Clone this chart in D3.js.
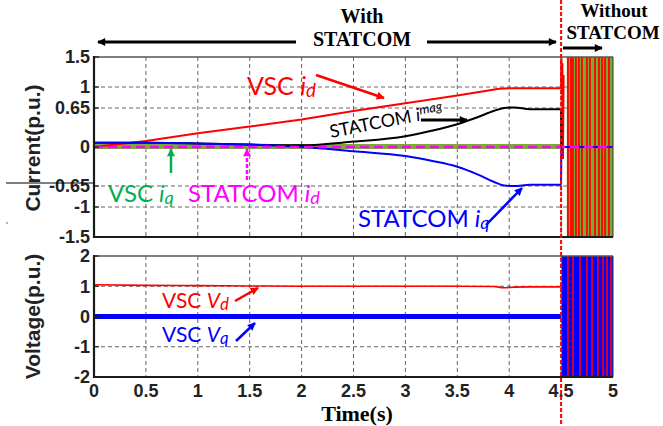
<!DOCTYPE html>
<html>
<head>
<meta charset="utf-8">
<script src="https://cdn.jsdelivr.net/npm/d3@7"></script>
<style>
  body { margin: 0; background: #fff; }
  svg { display: block; }
</style>
</head>
<body>
<svg id="chart" width="663" height="426"></svg>
<script>
// ---- axis ticks ----
const timeTicks = [0, 0.5, 1, 1.5, 2, 2.5, 3, 3.5, 4, 4.5, 5];
const timeTickLabels = ["0", "0.5", "1", "1.5", "2", "2.5", "3", "3.5", "4", "4.5", "5"];
const currentTicks = [-1.5, -1, -0.65, 0, 0.65, 1, 1.5];
const currentTickLabels = ["-1.5", "-1", "-0.65", "0", "0.65", "1", "1.5"];
const voltageTicks = [-2, -1, 0, 1, 2];
const voltageTickLabels = ["-2", "-1", "0", "1", "2"];
const switchTime = 4.5;   // STATCOM disconnected

// ---- currents (p.u.) ----
const vscIdT = [0, 0.5, 1, 1.5, 2, 2.5, 3, 3.5, 3.8, 3.9, 4.0, 4.2, 4.5, 4.503, 4.507, 4.512, 4.518, 4.524];
const vscIdV = [0, 0.1, 0.23, 0.34, 0.46, 0.6, 0.73, 0.86, 0.94, 0.97, 0.98, 0.98, 0.98, 1.48, 0.9, 1.4, -0.2, 1.2];

const vscIqT = [0, 4.5];
const vscIqV = [0.01, 0.01];

const statIdT = [0, 5];
const statIdV = [0, 0];

const statIqT = [0, 0.5, 1, 1.5, 2, 2.5, 3, 3.25, 3.5, 3.7, 3.85, 3.95, 4.05, 4.2, 4.35, 4.5, 4.502, 5];
const statIqV = [0.07, 0.07, 0.06, 0.04, 0.0, -0.07, -0.15, -0.23, -0.33, -0.46, -0.58, -0.64, -0.65, -0.63, -0.63, -0.63, 0, 0];

const statImagT = [0, 0.5, 1, 1.5, 2, 2.5, 3, 3.25, 3.5, 3.7, 3.85, 3.95, 4.05, 4.2, 4.35, 4.5, 4.502];
const statImagV = [0.07, 0.07, 0.06, 0.04, 0.03, 0.09, 0.18, 0.27, 0.38, 0.5, 0.6, 0.65, 0.66, 0.63, 0.63, 0.63, 0];

// oscillation after disconnection, drawn as dense stripes
const currentBandStart = 4.555;
const currentRedStripes = [4.566, 4.595, 4.614, 4.643, 4.672, 4.701, 4.749, 4.778, 4.827, 4.865, 4.894, 4.923, 4.961];

// ---- voltages (p.u.) ----
const vscVdT = [0, 0.5, 1, 1.5, 2, 2.5, 3, 3.5, 3.85, 3.95, 4.05, 4.2, 4.5];
const vscVdV = [1.05, 1.03, 1.02, 1.01, 1.0, 1.0, 1.0, 1.0, 0.99, 0.95, 0.97, 0.98, 0.98];

const vscVqT = [0, 4.5];
const vscVqV = [0, 0];

const voltageBandStart = 4.504;
const voltageRedStripes = [4.566, 4.615, 4.682, 4.749, 4.798, 4.855, 4.904, 4.942, 4.981];

// ---- layout ----
const svg = d3.select("#chart");
const x = d3.scaleLinear().domain([0, 5]).range([94, 613]);
const yI = d3.scaleLinear().domain([-1.5, 1.5]).range([237, 57]);
const yV = d3.scaleLinear().domain([-2, 2]).range([377, 256]);

const RED = "#ff0000", BLUE = "#0000ff", MAG = "#ff00ff", OLIVE = "#77ac30", GREEN = "#00b050";
const tickFont = "'Liberation Sans', Arial, sans-serif";
const serif = "'Liberation Serif', 'Times New Roman', serif";
const annot = "Lato, 'Open Sans', sans-serif";

// arrow markers
const defs = svg.append("defs");
[["red", RED], ["black", "#000"], ["blue", BLUE], ["green", GREEN], ["mag", MAG]].forEach(([id, c]) => {
  defs.append("marker")
    .attr("id", "ah-" + id)
    .attr("viewBox", "0 0 10 10")
    .attr("refX", 9).attr("refY", 5)
    .attr("markerWidth", 10).attr("markerHeight", 8)
    .attr("markerUnits", "userSpaceOnUse")
    .attr("orient", "auto")
    .append("path").attr("d", "M0,0 L10,5 L0,10 Z").attr("fill", c);
});

function pairs(ts, vs) { return ts.map((t, i) => [t, vs[i]]); }

function grid(yScale, hTicks) {
  const g = svg.append("g");
  g.selectAll("line.v").data(timeTicks.filter(t => t > 0 && t < 5)).join("line")
    .attr("x1", d => x(d)).attr("x2", d => x(d))
    .attr("y1", yScale.range()[1]).attr("y2", yScale.range()[0])
    .attr("stroke", "#666").attr("stroke-width", 1).attr("stroke-dasharray", "4,3");
  g.selectAll("line.h").data(hTicks).join("line")
    .attr("x1", x(0)).attr("x2", x(5))
    .attr("y1", d => yScale(d)).attr("y2", d => yScale(d))
    .attr("stroke", "#666").attr("stroke-width", 1).attr("stroke-dasharray", "4,3");
}

function frame(yScale, ticks, labels) {
  const [yb, yt] = yScale.range();
  svg.append("line").attr("x1", x(0)).attr("x2", x(5)).attr("y1", yt).attr("y2", yt)
    .attr("stroke", "#555").attr("stroke-width", 1.5);
  svg.append("line").attr("x1", x(5)).attr("x2", x(5)).attr("y1", yt).attr("y2", yb)
    .attr("stroke", "#333").attr("stroke-width", 1);
  svg.append("line").attr("x1", x(0)).attr("x2", x(0)).attr("y1", yt - 1).attr("y2", yb + 1)
    .attr("stroke", "#1a1a1a").attr("stroke-width", 2.2);
  svg.append("line").attr("x1", x(0) - 1).attr("x2", x(5)).attr("y1", yb).attr("y2", yb)
    .attr("stroke", "#1a1a1a").attr("stroke-width", 2.2);
  // inward tick marks
  svg.append("g").selectAll("line").data(ticks).join("line")
    .attr("x1", x(0)).attr("x2", x(0) + 5)
    .attr("y1", d => yScale(d)).attr("y2", d => yScale(d))
    .attr("stroke", "#1a1a1a").attr("stroke-width", 1.2);
  svg.append("g").selectAll("text").data(ticks).join("text")
    .attr("x", 90).attr("y", d => yScale(d)).attr("dy", "0.36em")
    .attr("text-anchor", "end")
    .attr("font-family", tickFont).attr("font-weight", "bold").attr("font-size", 18)
    .attr("fill", "#222")
    .text((d, i) => labels[i]);
}

// ===== current panel =====
grid(yI, [1, 0.65, 0, -0.65, -1]);

const lineI = d3.line().x(d => x(d[0])).y(d => yI(d[1])).curve(d3.curveMonotoneX);
const lineV = d3.line().x(d => x(d[0])).y(d => yV(d[1])).curve(d3.curveMonotoneX);

// VSC iq (thick band at zero)
svg.append("path").datum(pairs(vscIqT, vscIqV)).attr("d", lineI)
  .attr("fill", "none").attr("stroke", OLIVE).attr("stroke-width", 5);

// post-disconnection oscillation
svg.append("rect")
  .attr("x", x(currentBandStart)).attr("y", yI(1.5))
  .attr("width", x(5) - x(currentBandStart)).attr("height", yI(-1.5) - yI(1.5))
  .attr("fill", OLIVE);
svg.append("g").selectAll("line").data(currentRedStripes).join("line")
  .attr("x1", d => x(d)).attr("x2", d => x(d))
  .attr("y1", yI(1.5)).attr("y2", yI(-1.5))
  .attr("stroke", RED).attr("stroke-width", 1.8);

svg.append("path").datum(pairs(vscIdT, vscIdV)).attr("d", d3.line().x(d => x(d[0])).y(d => yI(d[1])))
  .attr("fill", "none").attr("stroke", RED).attr("stroke-width", 2);
svg.append("path").datum(pairs(statImagT, statImagV)).attr("d", lineI)
  .attr("fill", "none").attr("stroke", "#000").attr("stroke-width", 2);
svg.append("path").datum(pairs(statIqT, statIqV)).attr("d", lineI)
  .attr("fill", "none").attr("stroke", BLUE).attr("stroke-width", 2);
svg.append("path").datum(pairs(statIdT, statIdV)).attr("d", lineI)
  .attr("fill", "none").attr("stroke", MAG).attr("stroke-width", 2.5).attr("stroke-dasharray", "9,5");

frame(yI, currentTicks, currentTickLabels);

// ===== voltage panel =====
grid(yV, [1, 0, -1]);

svg.append("path").datum(pairs(vscVqT, vscVqV)).attr("d", lineV)
  .attr("fill", "none").attr("stroke", BLUE).attr("stroke-width", 5);
svg.append("path").datum(pairs(vscVdT, vscVdV)).attr("d", lineV)
  .attr("fill", "none").attr("stroke", RED).attr("stroke-width", 1.6);

svg.append("rect")
  .attr("x", x(voltageBandStart)).attr("y", yV(2))
  .attr("width", x(5) - x(voltageBandStart)).attr("height", yV(-2) - yV(2))
  .attr("fill", BLUE);
svg.append("g").selectAll("line").data(voltageRedStripes).join("line")
  .attr("x1", d => x(d)).attr("x2", d => x(d))
  .attr("y1", yV(2)).attr("y2", yV(-2))
  .attr("stroke", RED).attr("stroke-width", 1.6);

frame(yV, voltageTicks, voltageTickLabels);

// time axis labels
svg.append("g").selectAll("text").data(timeTicks).join("text")
  .attr("x", d => x(d)).attr("y", 397)
  .attr("text-anchor", "middle")
  .attr("font-family", tickFont).attr("font-weight", "bold").attr("font-size", 18)
  .attr("fill", "#222")
  .text((d, i) => timeTickLabels[i]);
svg.append("text").attr("x", 357).attr("y", 421).attr("text-anchor", "middle")
  .attr("font-family", serif).attr("font-weight", "bold").attr("font-size", 22)
  .text("Time(s)");

// y-axis titles
svg.append("text").attr("transform", `translate(40,${(yI(1.5) + yI(-1.5)) / 2 + 1}) rotate(-90)`)
  .attr("text-anchor", "middle")
  .attr("font-family", tickFont).attr("font-weight", "bold").attr("font-size", 21)
  .attr("fill", "#222").text("Current(p.u.)");
svg.append("text").attr("transform", `translate(40,${(yV(2) + yV(-2)) / 2}) rotate(-90)`)
  .attr("text-anchor", "middle")
  .attr("font-family", tickFont).attr("font-weight", "bold").attr("font-size", 21)
  .attr("fill", "#222").text("Voltage(p.u.)");

// stray rule beside the current axis
svg.append("line").attr("x1", 6).attr("x2", 94).attr("y1", 183).attr("y2", 183)
  .attr("stroke", "#000").attr("stroke-width", 1);
svg.append("circle").attr("cx", 7).attr("cy", 223).attr("r", 0.8).attr("fill", "#555");

// switching instant
svg.append("line").attr("x1", x(switchTime)).attr("x2", x(switchTime))
  .attr("y1", 0).attr("y2", 426)
  .attr("stroke", RED).attr("stroke-width", 2).attr("stroke-dasharray", "4,2");

// ---- annotations ----
function arrow(x1, y1, x2, y2, color, id, w, dash) {
  const l = svg.append("line").attr("x1", x1).attr("y1", y1).attr("x2", x2).attr("y2", y2)
    .attr("stroke", color).attr("stroke-width", w || 2.5)
    .attr("marker-end", `url(#ah-${id})`);
  if (dash) l.attr("stroke-dasharray", dash);
  return l;
}

function rich(px, py, parts, size, color, rot) {
  const t = svg.append("text")
    .attr("transform", `translate(${px},${py}) rotate(${rot || 0})`)
    .attr("font-family", annot).attr("font-size", size).attr("fill", color);
  let shift = 0;
  parts.forEach(p => {
    const s = t.append("tspan").text(p.t);
    if (p.it) s.attr("font-style", "italic");
    const target = p.dy || 0;
    if (target !== shift) { s.attr("dy", target - shift); shift = target; }
    if (p.sc) s.attr("font-size", size * p.sc);
  });
  return t;
}

// region headings
svg.append("text").attr("x", 362).attr("y", 23).attr("text-anchor", "middle")
  .attr("font-family", serif).attr("font-weight", "bold").attr("font-size", 20).text("With");
svg.append("text").attr("x", 362).attr("y", 46).attr("text-anchor", "middle")
  .attr("font-family", serif).attr("font-weight", "bold").attr("font-size", 20).text("STATCOM");
svg.append("text").attr("x", 614).attr("y", 17).attr("text-anchor", "middle")
  .attr("font-family", serif).attr("font-weight", "bold").attr("font-size", 19).text("Without");
svg.append("text").attr("x", 613).attr("y", 39).attr("text-anchor", "middle")
  .attr("font-family", serif).attr("font-weight", "bold").attr("font-size", 19).text("STATCOM");
arrow(296, 42, 98, 42, "#000", "black", 3);
arrow(427, 42, 556, 42, "#000", "black", 3);
arrow(563, 48, 602, 48, "#000", "black", 3);

// current traces
rich(247, 95, [{ t: "VSC " }, { t: "i", it: true }, { t: "d", it: true, sc: 0.75, dy: 2 }], 25, RED);
arrow(316, 75, 384, 98, RED, "red", 2.5);

rich(331, 138, [{ t: "STATCOM " }, { t: "i", it: true }, { t: "mag", it: true, sc: 0.72, dy: -6 }], 18, "#000", -11);
arrow(421, 120, 467, 120, "#000", "black", 3);

rich(108, 202, [{ t: "VSC " }, { t: "i", it: true }, { t: "q", it: true, sc: 0.75, dy: 2 }], 24, GREEN);
arrow(171, 173, 171, 149, GREEN, "green", 2.5);

rich(188, 202, [{ t: "STATCOM " }, { t: "i", it: true }, { t: "d", it: true, sc: 0.75, dy: 2 }], 24, MAG);
arrow(247, 180, 247, 149, MAG, "mag", 2.5, "4,2");

rich(358, 227, [{ t: "STATCOM " }, { t: "i", it: true }, { t: "q", it: true, sc: 0.75, dy: 2 }], 24, BLUE);
arrow(486, 225, 522, 188, BLUE, "blue", 2.5);

// voltage traces
rich(162, 308, [{ t: "VSC " }, { t: "V", it: true }, { t: "d", it: true, sc: 0.8, dy: 2 }], 21, RED);
arrow(235, 301, 258, 288, RED, "red", 2.5);

rich(162, 342, [{ t: "VSC " }, { t: "V", it: true }, { t: "q", it: true, sc: 0.8, dy: 2 }], 21, BLUE);
arrow(236, 341, 255, 323, BLUE, "blue", 2.5);
</script>
</body>
</html>
